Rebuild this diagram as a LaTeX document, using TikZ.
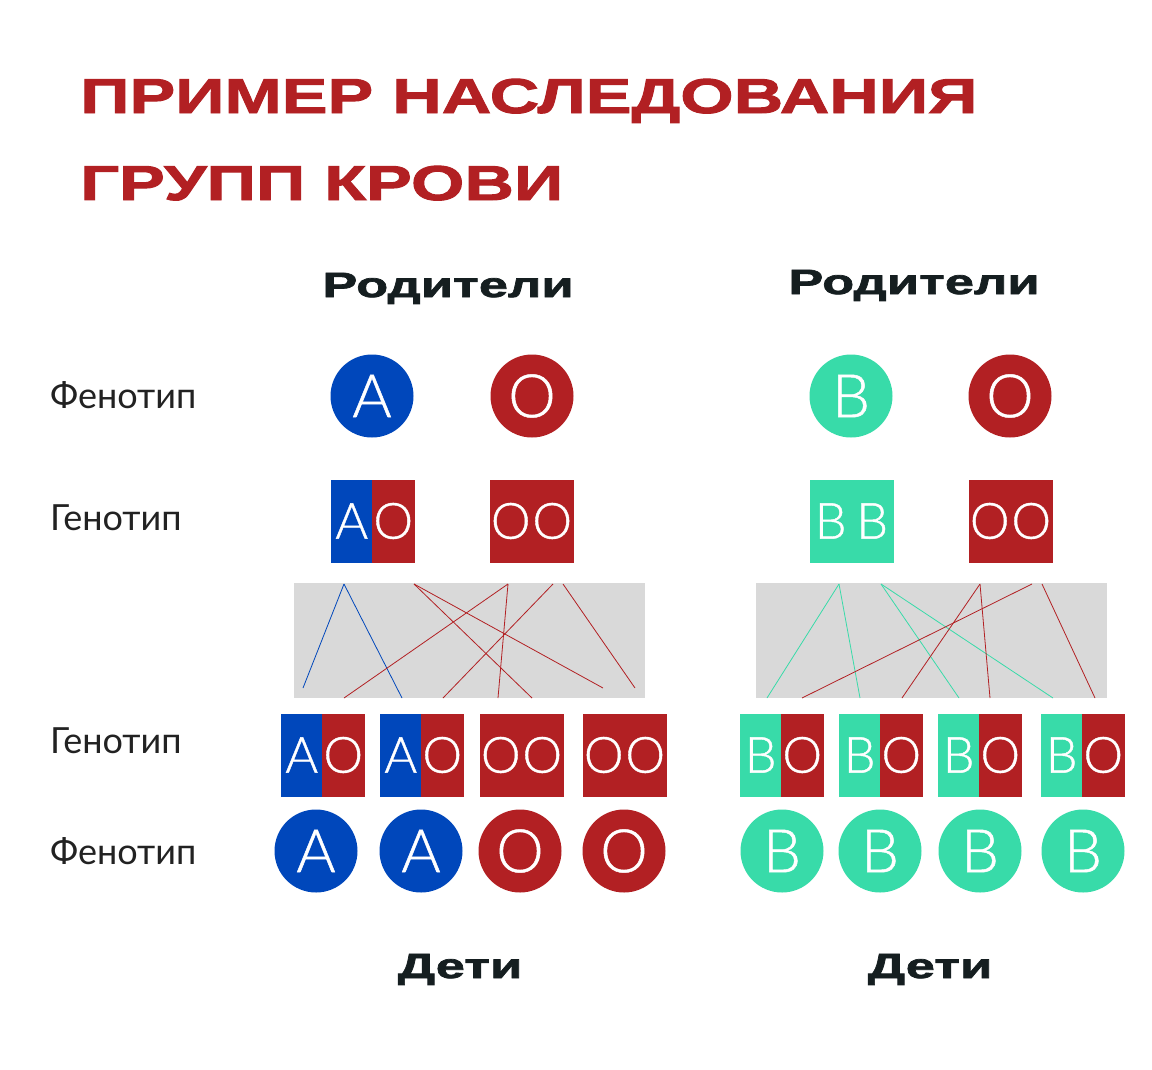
\documentclass[tikz,border=0pt]{standalone}
\usepackage{fontspec}
\setmainfont{Lato}
\newfontfamily\glyphfont[FakeBold=0.8]{Lato Light}
\newfontfamily\titlefont[FakeStretch=1.40,FakeBold=2]{Liberation Sans}
\newfontfamily\headfont[FakeStretch=1.50,FakeBold=2]{Liberation Sans}
\usetikzlibrary{positioning}
\definecolor{redO}{RGB}{178,32,35}
\definecolor{blueA}{RGB}{0,71,187}
\definecolor{greenB}{RGB}{56,219,169}
\definecolor{mixgray}{RGB}{217,217,217}
\definecolor{inkdark}{RGB}{21,30,32}
\definecolor{labelgray}{RGB}{34,34,34}

\begin{document}
\begin{tikzpicture}[x=1pt,y=-1pt,node distance=0pt,
	cell/.style={rectangle,fill=#1,draw=#1,line width=0.4pt,outer sep=0pt,minimum width=41.5pt,minimum height=82pt,inner sep=0pt,text=white,font=\glyphfont\fontsize{50}{50}\selectfont},
	pheno/.style={circle,fill=#1,minimum size=83pt,inner sep=0pt,text=white,font=\glyphfont\fontsize{60}{60}\selectfont},
	link/.style={draw=#1,line width=0.8pt}]
	\tikzstyle{title}=[inner sep=0pt,text=redO,font=\titlefont\bfseries\fontsize{49}{49}\selectfont]
	\tikzstyle{head}=[inner sep=0pt,text=inkdark,font=\headfont\bfseries\fontsize{35}{35}\selectfont]
	\tikzstyle{rowlabel}=[inner sep=0pt,anchor=base west,text=labelgray,font=\fontsize{36}{36}\selectfont]
	\tikzstyle{mixbox}=[rectangle,fill=mixgray,minimum width=351pt,minimum height=115pt,inner sep=0pt]

	\useasboundingbox[fill=white] (0,0) rectangle (1152,1069);

	% Title
	\node[title,anchor=base west] (title-1) at (80,113) {ПРИМЕР НАСЛЕДОВАНИЯ};
	\node[title,anchor=base west] (title-2) at (80,200) {ГРУПП КРОВИ};

	% Headings
	\node[head,anchor=base] (parents-L) at (448,297) {Родители};
	\node[head,anchor=base] (parents-R) at (914,294) {Родители};
	\node[head,anchor=base] (kids-L) at (460,978) {Дети};
	\node[head,anchor=base] (kids-R) at (930,978) {Дети};

	% Row labels
	\node[rowlabel] (row-1) at (50,408) {Фенотип};
	\node[rowlabel] (row-2) at (50,530) {Генотип};
	\node[rowlabel] (row-3) at (50,753) {Генотип};
	\node[rowlabel] (row-4) at (50,864) {Фенотип};

	% Parents: phenotype
	\node[pheno=blueA] (pA) at (372,396) {A};
	\node[pheno=redO] (pO-1) at (532,396) {O};
	\node[pheno=greenB] (pB) at (851,396) {B};
	\node[pheno=redO] (pO-2) at (1010,396) {O};

	% Parents: genotype
	\foreach \name / \x / \l / \r / \cl / \cr in {A/331/A/O/blueA/redO, O-1/490/O/O/redO/redO, B/810/B/B/greenB/greenB, O-2/969/O/O/redO/redO}
	{
	\node[cell=\cl] (g\name-a) at (\x+20.75,521) {\l};
	\node[cell=\cr,right=of g\name-a] (g\name-b) {\r};
	}

	% Mixing boxes
	\node[mixbox] (mix-L) at (469.5,640.5) {};
	\node[mixbox] (mix-R) at (931.5,640.5) {};

	% Ends of the links
	\foreach \name / \x in {L1/344,L2/414,L3/508,L4/553,L5/563,R1/839,R2/881,R3/980,R4/1032,R5/1042}
	\coordinate (from-\name) at (\x,584);
	\foreach \name / \x / \y in {L1/303/688,L2/402/698,L3/532/698,L4/603/688,L5/344/698,L6/498/698,L7/443/698,L8/635/688,
		R1/767/698,R2/860/698,R3/959/698,R4/1053/698,R5/902/698,R6/990/698,R7/802/698,R8/1095/698}
	\coordinate (to-\name) at (\x,\y);

	% Links between parent alleles and children
	\foreach \a / \b / \c in {L1/L1/blueA,L1/L2/blueA,L2/L3/redO,L2/L4/redO,L3/L5/redO,L3/L6/redO,L4/L7/redO,L5/L8/redO,
		R1/R1/greenB,R1/R2/greenB,R2/R3/greenB,R2/R4/greenB,R3/R5/redO,R3/R6/redO,R4/R7/redO,R5/R8/redO}
	\draw[link=\c] (from-\a) -- (to-\b);

	% Children: genotype
	\foreach \name / \x / \l / \r / \cl / \cr in {1/281/A/O/blueA/redO, 2/380/A/O/blueA/redO, 3/480/O/O/redO/redO, 4/583/O/O/redO/redO,
		5/740/B/O/greenB/redO, 6/839/B/O/greenB/redO, 7/938/B/O/greenB/redO, 8/1041/B/O/greenB/redO}
	{
	\node[cell=\cl] (k\name-a) at (\x+20.75,755) {\l};
	\node[cell=\cr,right=of k\name-a] (k\name-b) {\r};
	}

	% Children: phenotype
	\foreach \name / \x / \t / \c in {1/316/A/blueA, 2/421/A/blueA, 3/520/O/redO, 4/624/O/redO,
		5/782/B/greenB, 6/880/B/greenB, 7/980/B/greenB, 8/1083/B/greenB}
	\node[pheno=\c] (kid-\name) at (\x,851) {\t};
\end{tikzpicture}
\end{document}
